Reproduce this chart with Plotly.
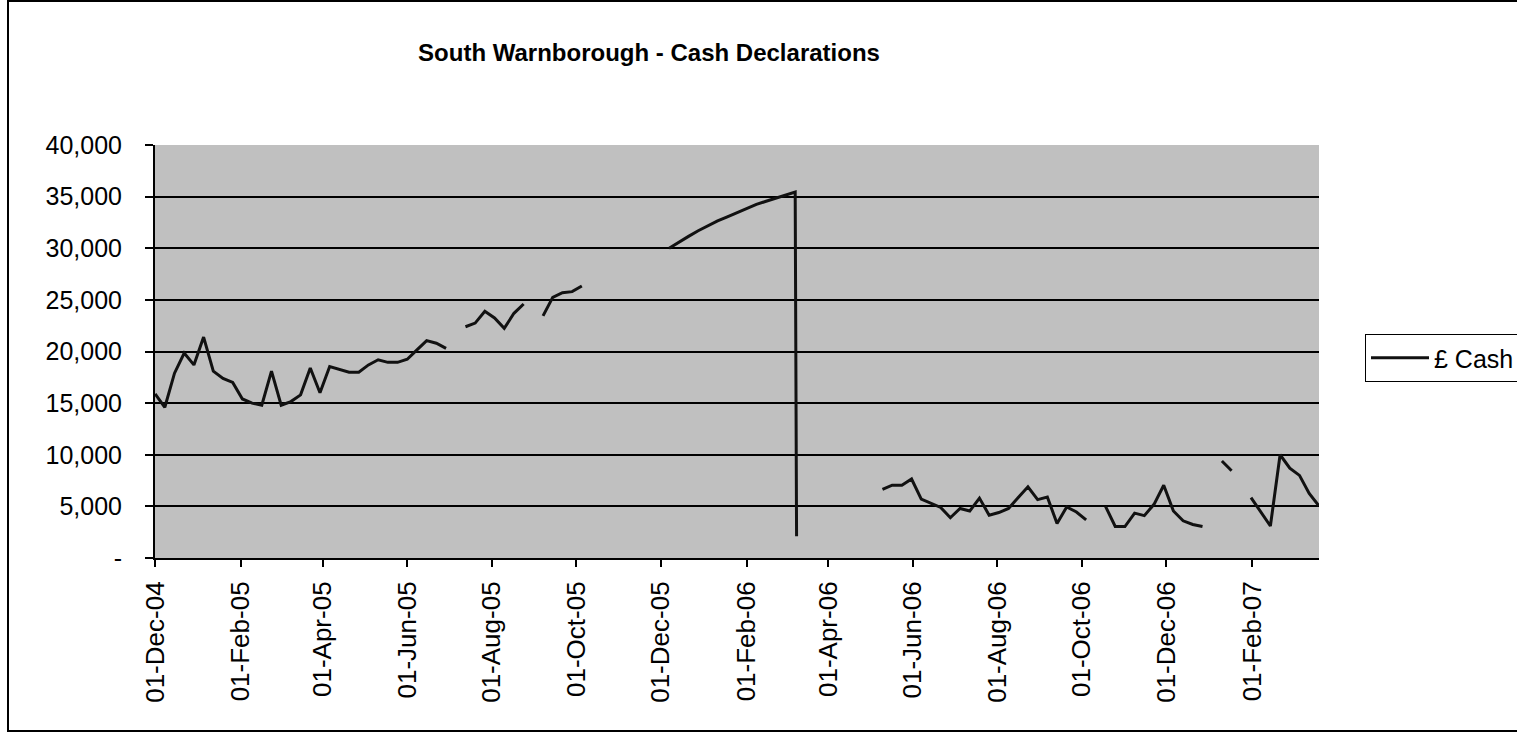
import pandas as pd
import plotly.graph_objects as go

# ---- data ----
start_date = "2004-12-01"
n_weeks = 121
week_dates = [d.strftime("%Y-%m-%d") for d in pd.date_range(start_date, periods=n_weeks, freq="7D")]

cash_weekly = (
    [15900, 14600, 17900, 19850, 18700, 21400, 18100, 17400, 17000, 15400,
     15000, 14800, 18100, 14800, 15150, 15800, 18400, 16000, 18550, 18250,
     18000, 18000, 18700, 19200, 18950, 18950, 19250, 20150, 21050, 20800,
     20300]
    + [None]
    + [22400, 22750, 23900, 23250, 22250, 23700, 24600]
    + [None]
    + [23450, 25250, 25700, 25800, 26350]
    + [None] * 8
    + [30000, 30600, 31150, 31700, 32200, 32650, 33050, 33450, 33850, 34250,
       34550, 34850, 35150, 35450]
    + [None] * 8
    + [6650, 7050, 7050, 7650, 5700, 5300, 4900, 3900, 4800, 4550,
       5800, 4150, 4400, 4800, 5900, 6900, 5650, 5900, 3350, 4950,
       4450, 3700]
    + [None]
    + [5000, 3050, 3050, 4350, 4100, 5200, 7050, 4550, 3600, 3250, 3050]
    + [None]
    + [9400, 8450]
    + [None]
    + [5850, 4450, 3100, 10000, 8700, 8000, 6250, 5050]
)

# extra declaration the day after the peak (the sudden drop)
drop_date = "2006-03-09"
drop_value = 2100

y_tick_values = [0, 5000, 10000, 15000, 20000, 25000, 30000, 35000, 40000]
y_tick_labels = ["-", "5,000", "10,000", "15,000", "20,000", "25,000", "30,000", "35,000", "40,000"]

title_text = "South Warnborough - Cash Declarations"
series_name = "£ Cash"

# ---- assemble series ----
df = pd.DataFrame({"date": week_dates + [drop_date], "cash": cash_weekly + [drop_value]})
df["date"] = pd.to_datetime(df["date"])
df = df.sort_values("date", kind="stable")
dates = df["date"].dt.strftime("%Y-%m-%d").tolist()
values = [None if pd.isna(v) else float(v) for v in df["cash"]]

FONT = "Liberation Sans, Arial, Helvetica, sans-serif"

fig = go.Figure()
fig.add_trace(go.Scatter(
    x=dates, y=values, mode="lines", name=series_name,
    line=dict(color="#111111", width=3),
    connectgaps=False,
))

W, H = 1517, 733
L, R, T, B = 155, 198, 145, 175
pw, ph = W - L - R, H - T - B

def px_x(px):
    return (px - L) / pw

def px_y(py):
    return (H - B - py) / ph

fig.update_layout(
    width=W, height=H,
    margin=dict(l=L, r=R, t=T, b=B, autoexpand=False),
    paper_bgcolor="white",
    plot_bgcolor="#c0c0c0",
    font=dict(family=FONT, color="black"),
    title=dict(
        text=title_text,
        x=px_x(649), xref="paper", xanchor="center",
        y=1 - 53 / H, yref="container", yanchor="middle",
        font=dict(family=FONT, size=24, color="black", weight="bold"),
    ),
    showlegend=True,
    legend=dict(
        x=px_x(1365), y=px_y(334), xanchor="left", yanchor="top",
        bgcolor="white", bordercolor="black", borderwidth=1,
        font=dict(family=FONT, size=25, color="black"),
        itemwidth=58,
        entrywidth=200,
    ),
    xaxis=dict(
        type="date",
        range=["2004-11-30 22:00", "2007-03-21 02:00"],
        tick0="2004-12-01", dtick="M2", tickformat="%d-%b-%y",
        tickangle=-90,
        ticks="outside", ticklen=7, tickwidth=2, tickcolor="black",
        showline=True, linecolor="black", linewidth=2,
        showgrid=False, zeroline=False,
        tickfont=dict(family=FONT, size=26, color="black"),
        ticklabelstandoff=4,
    ),
    yaxis=dict(
        range=[0, 40000],
        tickmode="array", tickvals=y_tick_values, ticktext=y_tick_labels,
        ticks="outside", ticklen=8, tickwidth=2, tickcolor="black",
        showline=True, linecolor="black", linewidth=2,
        showgrid=True, gridcolor="black", gridwidth=1.5,
        zeroline=False,
        tickfont=dict(family=FONT, size=25, color="black"),
        ticklabelstandoff=18,
    ),
    shapes=[dict(
        type="rect", xref="paper", yref="paper",
        x0=px_x(8), x1=px_x(1535), y0=px_y(731), y1=px_y(1),
        line=dict(color="black", width=2), fillcolor="rgba(0,0,0,0)",
        layer="below",
    )],
)

fig.write_html(
    "out.html",
    config={"displayModeBar": False},
    post_script="document.body.style.margin='0';document.body.style.overflow='hidden';",
)
